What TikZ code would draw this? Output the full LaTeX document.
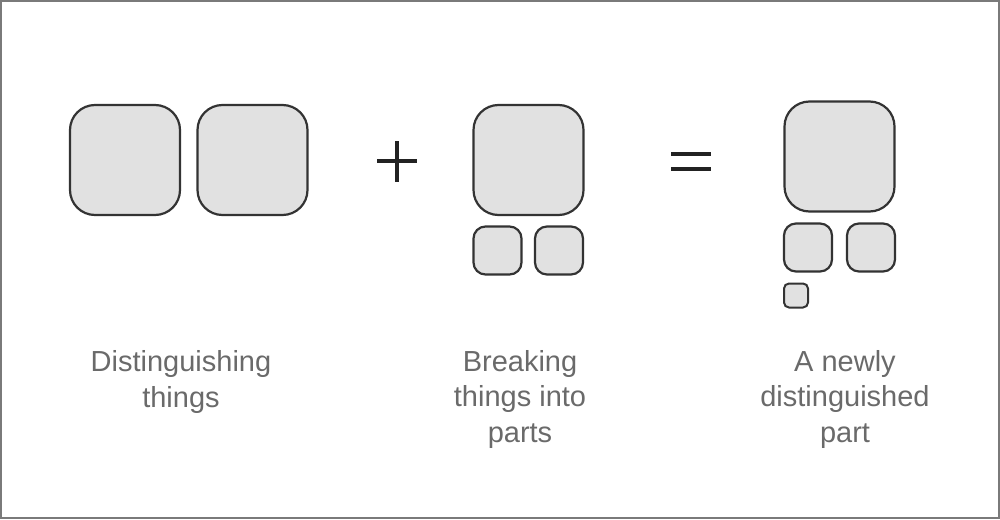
\documentclass[tikz,border=0pt]{standalone}
\usepackage{fontspec}
\setmainfont{Liberation Sans}
\definecolor{boxfill}{HTML}{E1E1E1}
\definecolor{boxline}{HTML}{333333}
\definecolor{txt}{HTML}{6A6A6A}
\definecolor{frame}{HTML}{7A7A7A}
\definecolor{sym}{HTML}{222222}
\begin{document}
\begin{tikzpicture}[x=1pt,y=-1pt,
  bigbox/.style={draw=boxline,fill=boxfill,line width=2.2pt,rounded corners=25pt,minimum width=110pt,minimum height=110pt,inner sep=0pt},
  midbox/.style={draw=boxline,fill=boxfill,line width=2.2pt,rounded corners=12pt,minimum width=48pt,minimum height=48pt,inner sep=0pt},
  tinybox/.style={draw=boxline,fill=boxfill,line width=2pt,rounded corners=5pt,minimum width=24pt,minimum height=24pt,inner sep=0pt},
  label/.style={text=txt,align=center,font=\fontsize{29}{35.5}\selectfont,inner sep=0pt,anchor=base},
  opline/.style={draw=sym,line width=4pt}]
\useasboundingbox (0,0) rectangle (1000,519);
\draw[frame,line width=2pt] (1,1) rectangle (999,518);
% left
\node[bigbox] (a1) at (125,160) {};
\node[bigbox] (a2) at (252.5,160) {};
% plus
\coordinate (pl) at (377,161);
\coordinate (pr) at (417,161);
\coordinate (pt) at (397,141);
\coordinate (pb) at (397,182);
\draw[opline] (pl) -- (pr);
\draw[opline] (pt) -- (pb);
% middle
\node[bigbox] (b1) at (528.5,160) {};
\node[midbox] (b2) at (497.5,250.5) {};
\node[midbox] (b3) at (559,250.5) {};
% equals
\coordinate (e1l) at (671,154);
\coordinate (e1r) at (711,154);
\coordinate (e2l) at (671,169);
\coordinate (e2r) at (711,169);
\draw[opline] (e1l) -- (e1r);
\draw[opline] (e2l) -- (e2r);
% right
\node[bigbox] (c1) at (839.5,156.5) {};
\node[midbox] (c2) at (808,247.5) {};
\node[midbox] (c3) at (871,247.5) {};
\node[tinybox] (c4) at (796,295.5) {};
% labels
\node[label] (t1) at (181,407) {Distinguishing\\things};
\node[label] (t2) at (520,442) {Breaking\\things into\\parts};
\node[label] (t3) at (845,442) {A newly\\distinguished\\part};
\end{tikzpicture}
\end{document}
